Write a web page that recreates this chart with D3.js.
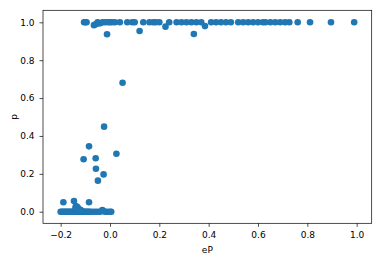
<!DOCTYPE html>
<html>
<head>
<meta charset="utf-8">
<script src="https://cdn.jsdelivr.net/npm/d3@7"></script>
<style>
  body { margin: 0; background: #fff; }
  text { font-family: "DejaVu Sans", sans-serif; }
</style>
</head>
<body>
<div id="chart"></div>
<script>
// x = eP, y = p
var topX = [-0.105, -0.1, -0.095, -0.065, -0.058, -0.05, -0.045, -0.04, -0.03, -0.02, -0.012, -0.008, 0.0, 0.008,
    0.02, 0.04, 0.07, 0.09, 0.1, 0.12, 0.135, 0.16, 0.175, 0.185, 0.2, 0.225, 0.24, 0.27, 0.29, 0.31, 0.33,
    0.34, 0.35, 0.37, 0.385, 0.41, 0.43, 0.45, 0.47, 0.49, 0.52, 0.54, 0.56, 0.58, 0.6, 0.62, 0.63, 0.65,
    0.67, 0.69, 0.71, 0.727, 0.761, 0.811, 0.896, 0.99];
var topY = [1.0, 1.0, 1.0, 0.985, 0.99, 1.0, 0.995, 0.995, 1.0, 1.0, 0.937, 1.0, 1.0, 1.0,
    1.0, 1.0, 1.0, 1.0, 1.0, 0.954, 1.0, 1.0, 1.0, 1.0, 1.0, 0.977, 1.0, 1.0, 1.0, 1.0, 1.0,
    0.938, 1.0, 1.0, 0.98, 1.0, 1.0, 1.0, 1.0, 1.0, 1.0, 1.0, 1.0, 1.0, 1.0, 1.0, 1.0, 1.0,
    1.0, 1.0, 1.0, 1.0, 1.0, 1.0, 1.0, 1.0];

var midX = [0.051, -0.024, -0.085, -0.107, -0.058, 0.026, -0.057, -0.026, -0.049];
var midY = [0.681, 0.449, 0.345, 0.277, 0.282, 0.306, 0.227, 0.197, 0.164];

var lowX = [-0.2, -0.195, -0.19, -0.185, -0.18, -0.175, -0.17, -0.165, -0.16, -0.155, -0.15, -0.145, -0.14,
    -0.135, -0.13, -0.125, -0.12, -0.115, -0.11, -0.105, -0.1, -0.095, -0.09, -0.085, -0.08, -0.07, -0.06,
    -0.05, -0.04, -0.02, -0.01, 0.0, 0.005,
    -0.189, -0.146, -0.085, -0.14, -0.138, -0.132, -0.128, -0.12, -0.115, -0.031, -0.027];
var lowY = [0, 0, 0, 0, 0, 0, 0, 0, 0, 0, 0, 0, 0,
    0, 0, 0, 0, 0, 0, 0, 0, 0, 0, 0, 0, 0, 0,
    0, 0, 0, 0, 0, 0,
    0.05, 0.056, 0.05, 0.02, 0.03, 0.025, 0.015, 0.01, 0.005, 0.009, 0.004];

var xTicks = [-0.2, 0.0, 0.2, 0.4, 0.6, 0.8, 1.0];
var yTicks = [0.0, 0.2, 0.4, 0.6, 0.8, 1.0];

function init() {
    var w = 382, h = 261;
    var left = 43, right = 371.7, top = 10.3, bottom = 223.3;
    var fs = 9;

    var points = [];
    [[topX, topY], [midX, midY], [lowX, lowY]].forEach(function (s) {
        s[0].forEach(function (x, i) { points.push({ x: x, y: s[1][i] }); });
    });

    var svg = d3.select("#chart").append("svg")
        .attr("width", w)
        .attr("height", h);

    var xScale = d3.scaleLinear().domain([-0.2716, 1.061]).range([left, right]);
    var yScale = d3.scaleLinear().domain([-0.0612, 1.0634]).range([bottom, top]);

    svg.selectAll("circle")
        .data(points)
        .enter()
        .append("circle")
        .attr("cx", d => xScale(d.x))
        .attr("cy", d => yScale(d.y))
        .attr("r", 3.3)
        .attr("fill", "#1f77b4");

    var xAxis = d3.axisBottom(xScale).tickValues(xTicks).tickSize(3.5).tickPadding(4.5)
        .tickFormat(d => d3.format(".1f")(d).replace("-", "\u2212"));
    var yAxis = d3.axisLeft(yScale).tickValues(yTicks).tickSize(3.5).tickPadding(5)
        .tickFormat(d3.format(".1f"));

    var gx = svg.append("g").attr("transform", `translate(0,${bottom})`).call(xAxis);
    var gy = svg.append("g").attr("transform", `translate(${left},0)`).call(yAxis);
    [gx, gy].forEach(function (g) {
        g.select(".domain").remove();
        g.selectAll("text").attr("font-size", fs).attr("fill", "#000")
            .attr("font-family", "DejaVu Sans, sans-serif");
        g.selectAll("line").attr("stroke", "#000").attr("stroke-width", 0.7);
    });

    // frame
    svg.append("rect")
        .attr("x", left).attr("y", top)
        .attr("width", right - left).attr("height", bottom - top)
        .attr("fill", "none").attr("stroke", "#000").attr("stroke-width", 0.7);

    svg.append("text")
        .attr("x", (left + right) / 2)
        .attr("y", 252.5)
        .attr("text-anchor", "middle")
        .attr("font-size", fs)
        .text("eP");

    svg.append("text")
        .attr("transform", `translate(16.5,${(top + bottom) / 2}) rotate(-90)`)
        .attr("text-anchor", "middle")
        .attr("font-size", fs)
        .text("p");
}

window.onload = init;
</script>
</body>
</html>
